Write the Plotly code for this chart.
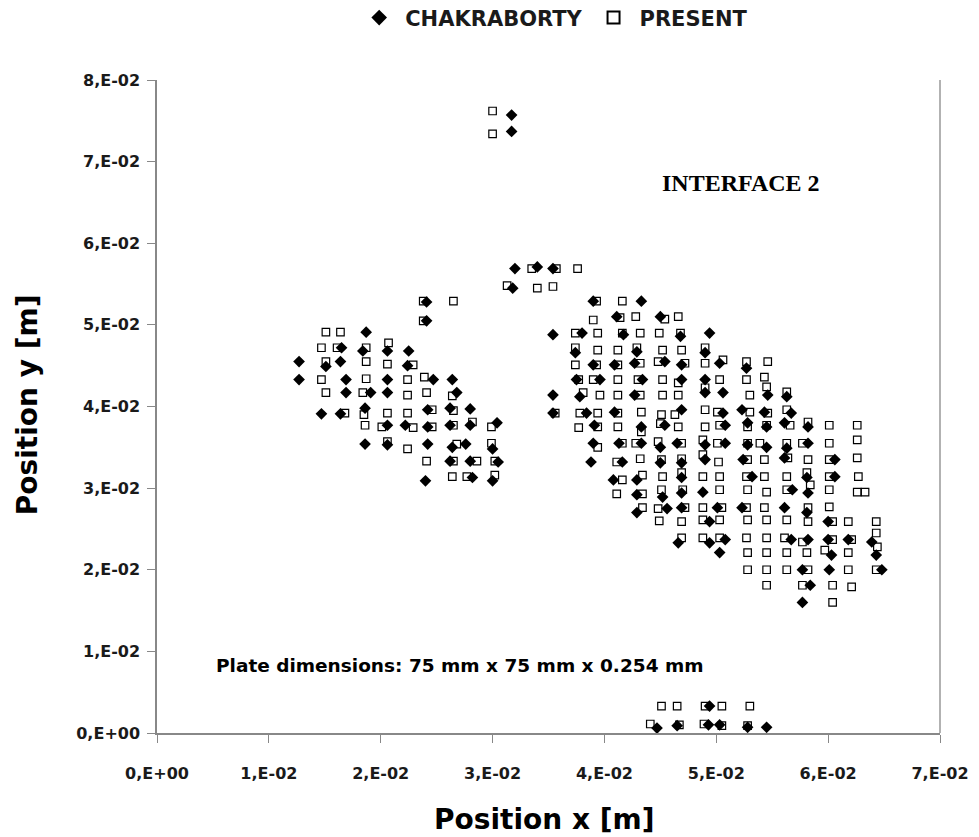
import plotly.graph_objects as go

# CHAKRABORTY (filled diamonds)
chak = [
    (0.0187,0.0491),(0.0165,0.0472),(0.0184,0.0468),(0.0206,0.0468),(0.0225,0.0468),
    (0.0127,0.0455),(0.0151,0.0449),(0.0164,0.0455),(0.0224,0.0450),(0.0127,0.0433),
    (0.0169,0.0433),(0.0206,0.0433),(0.0247,0.0433),(0.0169,0.0417),(0.0191,0.0417),
    (0.0206,0.0417),(0.0147,0.0391),(0.0164,0.0391),(0.0186,0.0398),(0.0242,0.0396),
    (0.0206,0.0377),(0.0222,0.0377),(0.0242,0.0375),(0.0186,0.0354),(0.0206,0.0353),
    (0.0242,0.0354),(0.0240,0.0309),(0.0241,0.0528),(0.0241,0.0505),(0.0264,0.0433),
    (0.0268,0.0417),(0.0262,0.0398),(0.0280,0.0397),(0.0262,0.0377),(0.0280,0.0377),
    (0.0304,0.0380),(0.0264,0.0350),(0.0276,0.0354),(0.0300,0.0348),(0.0262,0.0333),
    (0.0280,0.0333),(0.0305,0.0332),(0.0282,0.0313),(0.0300,0.0309),
    (0.0317,0.0757),(0.0317,0.0737),(0.0320,0.0569),(0.0340,0.0571),(0.0354,0.0569),
    (0.0318,0.0545),
    (0.0390,0.0529),(0.0433,0.0529),(0.0411,0.0510),(0.0450,0.0510),(0.0354,0.0488),
    (0.0380,0.0490),(0.0417,0.0488),(0.0468,0.0486),(0.0494,0.0490),(0.0374,0.0466),
    (0.0429,0.0467),(0.0490,0.0466),(0.0390,0.0451),(0.0409,0.0451),(0.0427,0.0453),
    (0.0454,0.0455),(0.0469,0.0451),(0.0503,0.0453),(0.0527,0.0447),(0.0375,0.0433),
    (0.0396,0.0433),(0.0434,0.0433),(0.0469,0.0433),(0.0490,0.0433),(0.0354,0.0414),
    (0.0378,0.0412),(0.0427,0.0414),(0.0490,0.0417),(0.0506,0.0417),(0.0546,0.0414),
    (0.0563,0.0412),(0.0354,0.0392),(0.0384,0.0392),(0.0409,0.0393),(0.0469,0.0396),
    (0.0506,0.0392),(0.0523,0.0396),(0.0543,0.0393),(0.0567,0.0392),(0.0391,0.0377),
    (0.0433,0.0375),(0.0454,0.0377),(0.0508,0.0377),(0.0528,0.0380),(0.0545,0.0375),
    (0.0561,0.0380),(0.0582,0.0375),(0.0390,0.0355),(0.0413,0.0355),(0.0433,0.0355),
    (0.0450,0.0350),(0.0465,0.0355),(0.0490,0.0353),(0.0508,0.0355),(0.0528,0.0353),
    (0.0545,0.0350),(0.0563,0.0349),(0.0582,0.0355),(0.0388,0.0332),(0.0416,0.0332),
    (0.0450,0.0331),(0.0469,0.0331),(0.0490,0.0335),(0.0524,0.0335),(0.0561,0.0337),
    (0.0606,0.0335),(0.0408,0.0310),(0.0429,0.0310),(0.0469,0.0313),(0.0532,0.0314),
    (0.0581,0.0313),(0.0606,0.0314),(0.0429,0.0292),(0.0452,0.0289),(0.0469,0.0294),
    (0.0488,0.0295),(0.0568,0.0298),(0.0582,0.0294),(0.0429,0.0270),(0.0456,0.0275),
    (0.0469,0.0276),(0.0501,0.0276),(0.0523,0.0276),(0.0561,0.0276),(0.0581,0.0270),
    (0.0494,0.0259),(0.0600,0.0259),(0.0466,0.0233),(0.0494,0.0233),(0.0508,0.0237),
    (0.0567,0.0237),(0.0582,0.0237),(0.0600,0.0237),(0.0618,0.0237),(0.0639,0.0234),
    (0.0503,0.0221),(0.0603,0.0218),(0.0643,0.0218),
    (0.0577,0.0200),(0.0601,0.0200),(0.0648,0.0200),(0.0584,0.0181),(0.0577,0.0160),
    (0.0494,0.0033),(0.0447,0.0006),(0.0465,0.0009),(0.0493,0.0010),(0.0503,0.0010),
    (0.0528,0.0007),(0.0545,0.0007),
]

# PRESENT (open squares)
present = [
    (0.0151,0.0491),(0.0164,0.0491),(0.0147,0.0472),(0.0161,0.0472),(0.0187,0.0472),
    (0.0207,0.0478),(0.0151,0.0455),(0.0187,0.0455),(0.0206,0.0452),(0.0229,0.0451),
    (0.0147,0.0433),(0.0187,0.0434),(0.0224,0.0433),(0.0239,0.0436),(0.0151,0.0417),
    (0.0184,0.0417),(0.0224,0.0414),(0.0241,0.0417),(0.0168,0.0392),(0.0185,0.0390),
    (0.0206,0.0392),(0.0224,0.0392),(0.0246,0.0396),(0.0186,0.0377),(0.0201,0.0375),
    (0.0229,0.0374),(0.0246,0.0375),(0.0206,0.0357),(0.0224,0.0348),(0.0241,0.0333),
    (0.0238,0.0529),(0.0265,0.0529),(0.0238,0.0505),(0.0264,0.0413),(0.0265,0.0395),
    (0.0265,0.0377),(0.0282,0.0381),(0.0299,0.0375),(0.0268,0.0354),(0.0299,0.0355),
    (0.0265,0.0333),(0.0286,0.0333),(0.0302,0.0333),(0.0264,0.0314),(0.0277,0.0314),
    (0.0302,0.0316),
    (0.0300,0.0762),(0.0300,0.0734),(0.0335,0.0569),(0.0357,0.0569),(0.0376,0.0569),
    (0.0313,0.0548),(0.0340,0.0545),(0.0354,0.0547),
    (0.0393,0.0529),(0.0416,0.0529),(0.0390,0.0506),(0.0414,0.0509),(0.0428,0.0510),
    (0.0454,0.0507),(0.0466,0.0510),(0.0374,0.0490),(0.0394,0.0490),(0.0416,0.0490),
    (0.0432,0.0490),(0.0449,0.0490),(0.0468,0.0490),(0.0374,0.0472),(0.0394,0.0469),
    (0.0412,0.0469),(0.0429,0.0472),(0.0452,0.0469),(0.0469,0.0469),(0.0490,0.0472),
    (0.0374,0.0451),(0.0393,0.0451),(0.0412,0.0451),(0.0432,0.0453),(0.0448,0.0455),
    (0.0472,0.0453),(0.0490,0.0453),(0.0506,0.0457),(0.0527,0.0455),(0.0546,0.0455),
    (0.0377,0.0433),(0.0390,0.0433),(0.0412,0.0433),(0.0430,0.0433),(0.0452,0.0433),
    (0.0466,0.0429),(0.0503,0.0433),(0.0527,0.0433),(0.0543,0.0436),(0.0381,0.0417),
    (0.0396,0.0414),(0.0412,0.0414),(0.0432,0.0414),(0.0452,0.0414),(0.0466,0.0414),
    (0.0490,0.0423),(0.0530,0.0414),(0.0545,0.0424),(0.0563,0.0418),(0.0356,0.0392),
    (0.0378,0.0392),(0.0394,0.0392),(0.0412,0.0392),(0.0433,0.0393),(0.0451,0.0390),
    (0.0463,0.0390),(0.0490,0.0396),(0.0501,0.0393),(0.0530,0.0393),(0.0546,0.0392),
    (0.0563,0.0396),(0.0377,0.0374),(0.0394,0.0375),(0.0412,0.0375),(0.0433,0.0369),
    (0.0450,0.0379),(0.0466,0.0375),(0.0490,0.0375),(0.0503,0.0377),(0.0528,0.0375),
    (0.0545,0.0377),(0.0566,0.0377),(0.0582,0.0381),(0.0601,0.0377),(0.0626,0.0377),
    (0.0394,0.0350),(0.0416,0.0355),(0.0428,0.0355),(0.0448,0.0357),(0.0469,0.0355),
    (0.0488,0.0359),(0.0501,0.0355),(0.0528,0.0355),(0.0539,0.0355),(0.0563,0.0355),
    (0.0577,0.0355),(0.0601,0.0355),(0.0626,0.0359),(0.0411,0.0332),(0.0432,0.0336),
    (0.0451,0.0335),(0.0469,0.0336),(0.0488,0.0341),(0.0502,0.0332),(0.0528,0.0335),
    (0.0543,0.0335),(0.0564,0.0337),(0.0582,0.0335),(0.0601,0.0335),(0.0626,0.0337),
    (0.0416,0.0310),(0.0434,0.0316),(0.0452,0.0314),(0.0469,0.0319),(0.0488,0.0314),
    (0.0503,0.0314),(0.0527,0.0314),(0.0543,0.0314),(0.0563,0.0314),(0.0581,0.0319),
    (0.0601,0.0314),(0.0627,0.0314),(0.0411,0.0293),(0.0434,0.0293),(0.0451,0.0298),
    (0.0470,0.0298),(0.0503,0.0298),(0.0528,0.0298),(0.0545,0.0295),(0.0563,0.0298),
    (0.0584,0.0304),(0.0601,0.0298),(0.0626,0.0295),(0.0633,0.0295),(0.0434,0.0276),
    (0.0448,0.0275),(0.0472,0.0276),(0.0488,0.0276),(0.0505,0.0276),(0.0527,0.0276),
    (0.0543,0.0276),(0.0582,0.0276),(0.0601,0.0277),(0.0449,0.0260),(0.0469,0.0259),
    (0.0488,0.0261),(0.0503,0.0261),(0.0528,0.0261),(0.0545,0.0261),(0.0563,0.0261),
    (0.0582,0.0259),(0.0604,0.0259),(0.0618,0.0259),(0.0643,0.0259),(0.0469,0.0239),
    (0.0488,0.0239),(0.0503,0.0239),(0.0527,0.0239),(0.0545,0.0239),(0.0561,0.0239),
    (0.0577,0.0234),(0.0604,0.0237),(0.0621,0.0237),(0.0643,0.0245),(0.0644,0.0228),
    (0.0528,0.0221),(0.0545,0.0221),(0.0563,0.0221),(0.0581,0.0221),(0.0597,0.0224),
    (0.0618,0.0221),
    (0.0528,0.0200),(0.0545,0.0200),(0.0563,0.0200),(0.0582,0.0200),(0.0618,0.0200),
    (0.0643,0.0200),(0.0545,0.0181),(0.0577,0.0181),(0.0604,0.0181),(0.0621,0.0179),
    (0.0604,0.0160),
    (0.0451,0.0033),(0.0465,0.0033),(0.0490,0.0033),(0.0505,0.0033),(0.0530,0.0033),
    (0.0441,0.0011),(0.0467,0.0010),(0.0489,0.0011),(0.0505,0.0009),(0.0528,0.0009),
]

x_tickvals = [0, 0.01, 0.02, 0.03, 0.04, 0.05, 0.06, 0.07]
x_ticktext = ["0,E+00", "1,E-02", "2,E-02", "3,E-02", "4,E-02", "5,E-02", "6,E-02", "7,E-02"]
y_tickvals = [0, 0.01, 0.02, 0.03, 0.04, 0.05, 0.06, 0.07, 0.08]
y_ticktext = ["0,E+00", "1,E-02", "2,E-02", "3,E-02", "4,E-02", "5,E-02", "6,E-02", "7,E-02", "8,E-02"]

FONT = "'DejaVu Sans', Arial, sans-serif"
SERIF = "'Liberation Serif', 'Times New Roman', serif"

fig = go.Figure()
fig.add_trace(go.Scatter(
    x=[p[0] for p in chak], y=[p[1] for p in chak], mode="markers", name="CHAKRABORTY",
    marker=dict(symbol="diamond", size=9, color="black", line=dict(width=0)),
))
fig.add_trace(go.Scatter(
    x=[p[0] for p in present], y=[p[1] for p in present], mode="markers", name="PRESENT",
    marker=dict(symbol="square-open", size=7.5, color="black", line=dict(width=1.2)),
))

tickfont = dict(family=FONT, size=16, color="#1a1a1a", weight="bold")

fig.update_layout(
    width=971, height=829,
    margin=dict(l=149, r=39, t=72, b=104, autoexpand=False),
    paper_bgcolor="white", plot_bgcolor="white",
    font=dict(family=FONT, color="black"),
    showlegend=True,
    legend=dict(orientation="h", x=0.506, xanchor="center", y=1.095, yanchor="middle",
                font=dict(family=FONT, size=21, color="#1a1a1a", weight="bold"),
                itemsizing="constant", bgcolor="rgba(0,0,0,0)", itemwidth=42),
    xaxis=dict(range=[0, 0.07], tickvals=x_tickvals, ticktext=x_ticktext, automargin=False,
               showgrid=False, zeroline=False, showline=True, linecolor="#888", linewidth=1.5,
               ticks="outside", ticklen=8, tickcolor="#888", tickfont=tickfont,
               ticklabelstandoff=17),
    yaxis=dict(range=[0, 0.08], tickvals=y_tickvals, ticktext=y_ticktext, automargin=False,
               showgrid=False, zeroline=False, showline=True, linecolor="#888", linewidth=1.5,
               ticks="outside", ticklen=8, tickcolor="#888", tickfont=tickfont,
               ticklabelstandoff=4),
    annotations=[
        dict(text="Position x [m]", x=0.4955, y=-0.133, xref="paper", yref="paper",
             xanchor="center", yanchor="middle",
             showarrow=False, font=dict(family=FONT, size=28, color="black", weight="bold")),
        dict(text="Position y [m]", x=-0.166, y=0.502, xref="paper", yref="paper",
             xanchor="center", yanchor="middle",
             textangle=-90, showarrow=False,
             font=dict(family=FONT, size=28, color="black", weight="bold")),
        dict(text="INTERFACE 2", x=0.0522, y=0.0674, xref="x", yref="y", showarrow=False,
             xanchor="center", yanchor="middle",
             font=dict(family=SERIF, size=24, color="black", weight="bold")),
        dict(text="Plate dimensions: 75 mm x 75 mm x 0.254 mm", x=0.0051, y=0.0083,
             xref="x", yref="y", xanchor="left", yanchor="middle", showarrow=False,
             font=dict(family=FONT, size=18.5, color="black", weight="bold")),
    ],
    shapes=[dict(type="line", xref="paper", yref="paper", x0=1, x1=1, y0=0, y1=1,
                 line=dict(color="#999", width=1.5))],
)

fig.write_html("out.html")
